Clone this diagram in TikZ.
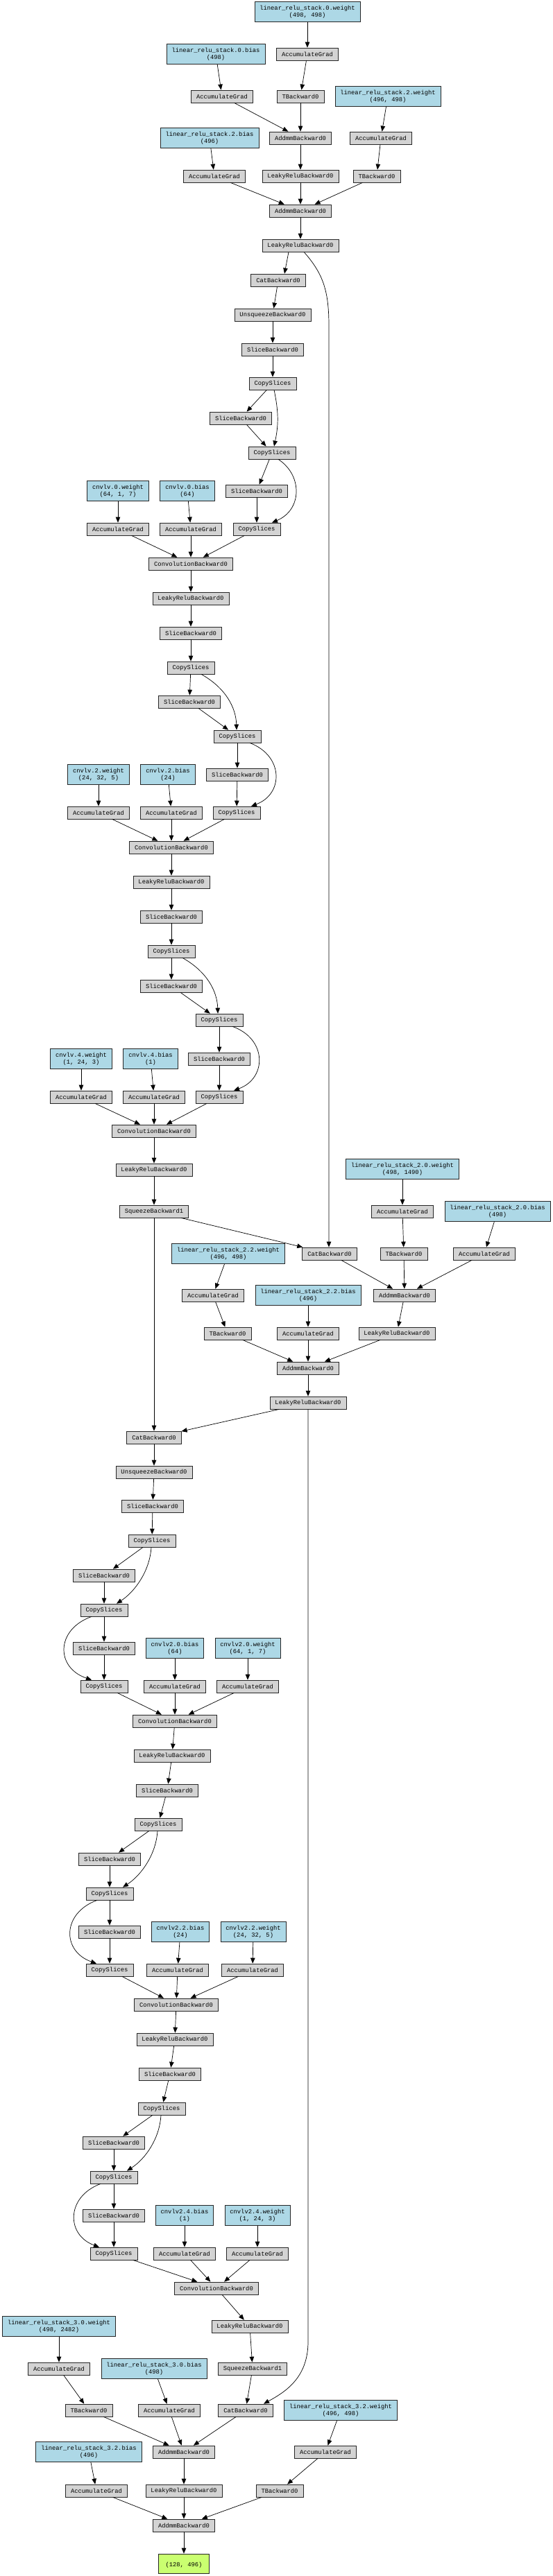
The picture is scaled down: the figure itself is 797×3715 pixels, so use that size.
\documentclass[tikz,border=0pt]{standalone}
\usepackage{fontspec}
\usetikzlibrary{arrows.meta}
\newfontfamily\tfont{Liberation Mono}
\definecolor{gfill}{HTML}{D3D3D3}
\definecolor{bfill}{HTML}{ADD8E6}
\definecolor{ofill}{HTML}{CAFF70}
\begin{document}
\begin{tikzpicture}[x=1pt,y=-1pt,
 base/.style={draw=black!85, line width=0.7pt, inner xsep=7.5pt, inner ysep=0pt, font=\tfont\fontsize{8.8}{10}\selectfont, align=center},
 g/.style={base, fill=gfill, minimum height=18pt},
 b/.style={base, fill=bfill, minimum height=29pt},
 o/.style={base, fill=ofill, minimum height=28pt, minimum width=73pt},
 e/.style={-{Triangle[length=8pt,width=6.5pt]}, line width=0.7pt}]
\useasboundingbox[fill=white] (0,0) rectangle (797,3715);
% ---------- A
\node[b] (n1) at (443,17) {linear\_relu\_stack.0.weight\\(498, 498)};
\node[g] (n2) at (443,78) {AccumulateGrad};
\node[b] (n3) at (311,78) {linear\_relu\_stack.0.bias\\(498)};
\node[g] (n4) at (320,139) {AccumulateGrad};
\node[g] (n5) at (433,139) {TBackward0};
\node[b] (n6) at (559,139) {linear\_relu\_stack.2.weight\\(496, 498)};
\node[g] (n7) at (433,199) {AddmmBackward0};
\node[b] (n8) at (302,199) {linear\_relu\_stack.2.bias\\(496)};
\node[g] (n9) at (549,199) {AccumulateGrad};
\node[g] (n10) at (309,254) {AccumulateGrad};
\node[g] (n11) at (433,254) {LeakyReluBackward0};
\node[g] (n12) at (543,254) {TBackward0};
\node[g] (n13) at (433,304) {AddmmBackward0};
\node[g] (n14) at (433,354) {LeakyReluBackward0};
% ---------- B
\node[g] (n15) at (401,404) {CatBackward0};
\node[g] (n16) at (393,454) {UnsqueezeBackward0};
\node[g] (n17) at (393,504) {SliceBackward0};
\node[g] (n18) at (393,553) {CopySlices};
\node[g] (n19) at (347,603) {SliceBackward0};
\node[g] (n20) at (392,653) {CopySlices};
\node[g] (n21) at (370,708) {SliceBackward0};
\node[b] (n22) at (170,708) {cnvlv.0.weight\\(64, 1, 7)};
\node[b] (n23) at (270,708) {cnvlv.0.bias\\(64)};
\node[g] (n24) at (170,763) {AccumulateGrad};
\node[g] (n25) at (275,763) {AccumulateGrad};
\node[g] (n26) at (370,763) {CopySlices};
\node[g] (n27) at (275,813) {ConvolutionBackward0};
% ---------- C
\node[g] (n28) at (275,863) {LeakyReluBackward0};
\node[g] (n29) at (275,913) {SliceBackward0};
\node[g] (n30) at (275,963) {CopySlices};
\node[g] (n31) at (273,1012) {SliceBackward0};
\node[g] (n32) at (342,1062) {CopySlices};
\node[g] (n33) at (342,1117) {SliceBackward0};
\node[b] (n34) at (142,1117) {cnvlv.2.weight\\(24, 32, 5)};
\node[b] (n35) at (242,1117) {cnvlv.2.bias\\(24)};
\node[g] (n36) at (142,1172) {AccumulateGrad};
\node[g] (n37) at (247,1172) {AccumulateGrad};
\node[g] (n38) at (341,1172) {CopySlices};
\node[g] (n39) at (247,1222) {ConvolutionBackward0};
\node[g] (n40) at (247,1272) {LeakyReluBackward0};
% ---------- D
\node[g] (n41) at (247,1322) {SliceBackward0};
\node[g] (n42) at (247,1372) {CopySlices};
\node[g] (n43) at (247,1422) {SliceBackward0};
\node[g] (n44) at (316,1471) {CopySlices};
\node[g] (n45) at (316,1527) {SliceBackward0};
\node[b] (n46) at (117,1527) {cnvlv.4.weight\\(1, 24, 3)};
\node[b] (n47) at (217,1527) {cnvlv.4.bias\\(1)};
\node[g] (n48) at (117,1582) {AccumulateGrad};
\node[g] (n49) at (222,1582) {AccumulateGrad};
\node[g] (n50) at (316,1582) {CopySlices};
\node[g] (n51) at (222,1631) {ConvolutionBackward0};
\node[g] (n52) at (222,1687) {LeakyReluBackward0};
\node[g] (n53) at (222,1747) {SqueezeBackward1};
% ---------- E
\node[b] (n54) at (580,1686) {linear\_relu\_stack\_2.0.weight\\(498, 1490)};
\node[g] (n55) at (580,1747) {AccumulateGrad};
\node[b] (n56) at (717,1747) {linear\_relu\_stack\_2.0.bias\\(498)};
\node[g] (n57) at (475,1808) {CatBackward0};
\node[g] (n58) at (582,1808) {TBackward0};
\node[g] (n59) at (698,1808) {AccumulateGrad};
\node[b] (n60) at (329,1808) {linear\_relu\_stack\_2.2.weight\\(496, 498)};
\node[g] (n61) at (307,1868) {AccumulateGrad};
\node[b] (n62) at (444,1868) {linear\_relu\_stack\_2.2.bias\\(496)};
\node[g] (n63) at (583,1868) {AddmmBackward0};
\node[g] (n64) at (328,1923) {TBackward0};
\node[g] (n65) at (444,1923) {AccumulateGrad};
\node[g] (n66) at (572,1923) {LeakyReluBackward0};
\node[g] (n67) at (444,1973) {AddmmBackward0};
\node[g] (n68) at (444,2023) {LeakyReluBackward0};
\node[g] (n69) at (222,2073) {CatBackward0};
% ---------- F
\node[g] (n70) at (222,2123) {UnsqueezeBackward0};
\node[g] (n71) at (220,2172) {SliceBackward0};
\node[g] (n72) at (219,2222) {CopySlices};
\node[g] (n73) at (150,2272) {SliceBackward0};
\node[g] (n74) at (150,2322) {CopySlices};
\node[g] (n75) at (150,2377) {SliceBackward0};
\node[b] (n76) at (252,2377) {cnvlv2.0.bias\\(64)};
\node[b] (n77) at (357,2377) {cnvlv2.0.weight\\(64, 1, 7)};
\node[g] (n78) at (150,2432) {CopySlices};
\node[g] (n79) at (252,2432) {AccumulateGrad};
\node[g] (n80) at (357,2432) {AccumulateGrad};
\node[g] (n81) at (252,2482) {ConvolutionBackward0};
\node[g] (n82) at (248,2532) {LeakyReluBackward0};
\node[g] (n83) at (241,2582) {SliceBackward0};
% ---------- G
\node[g] (n84) at (228,2631) {CopySlices};
\node[g] (n85) at (158,2681) {SliceBackward0};
\node[g] (n86) at (158,2731) {CopySlices};
\node[g] (n87) at (158,2786) {SliceBackward0};
\node[b] (n88) at (260,2786) {cnvlv2.2.bias\\(24)};
\node[b] (n89) at (365,2786) {cnvlv2.2.weight\\(24, 32, 5)};
\node[g] (n90) at (158,2841) {CopySlices};
\node[g] (n91) at (256,2841) {AccumulateGrad};
\node[g] (n92) at (364,2841) {AccumulateGrad};
\node[g] (n93) at (254,2891) {ConvolutionBackward0};
\node[g] (n94) at (252,2941) {LeakyReluBackward0};
\node[g] (n95) at (245,2991) {SliceBackward0};
\node[g] (n96) at (233,3041) {CopySlices};
% ---------- H
\node[g] (n97) at (164,3090) {SliceBackward0};
\node[g] (n98) at (164,3140) {CopySlices};
\node[g] (n99) at (164,3195) {SliceBackward0};
\node[b] (n100) at (266,3195) {cnvlv2.4.bias\\(1)};
\node[b] (n101) at (371,3195) {cnvlv2.4.weight\\(1, 24, 3)};
\node[g] (n102) at (164,3250) {CopySlices};
\node[g] (n103) at (266,3250) {AccumulateGrad};
\node[g] (n104) at (371,3250) {AccumulateGrad};
\node[g] (n105) at (312,3300) {ConvolutionBackward0};
\node[g] (n106) at (360,3355) {LeakyReluBackward0};
\node[g] (n107) at (364,3416) {SqueezeBackward1};
\node[g] (n108) at (354,3476) {CatBackward0};
% ---------- I
\node[b] (n109) at (85,3355) {linear\_relu\_stack\_3.0.weight\\(498, 2482)};
\node[g] (n110) at (85,3416) {AccumulateGrad};
\node[b] (n111) at (222,3416) {linear\_relu\_stack\_3.0.bias\\(498)};
\node[g] (n112) at (128,3476) {TBackward0};
\node[g] (n113) at (244,3476) {AccumulateGrad};
\node[b] (n114) at (491,3476) {linear\_relu\_stack\_3.2.weight\\(496, 498)};
\node[g] (n115) at (265,3536) {AddmmBackward0};
\node[b] (n116) at (128,3536) {linear\_relu\_stack\_3.2.bias\\(496)};
\node[g] (n117) at (469,3536) {AccumulateGrad};
\node[g] (n118) at (139,3592) {AccumulateGrad};
\node[g] (n119) at (265,3592) {LeakyReluBackward0};
\node[g] (n120) at (403,3592) {TBackward0};
\node[g] (n121) at (265,3642) {AddmmBackward0};
\node[o] (n122) at (265,3697) {\mbox{}\\(128, 496)};
% ---------- edges A
\draw[e] (n1) -- (n2);
\draw[e] (n2) -- (n5);
\draw[e] (n3) -- (n4);
\draw[e] (n4) -- (n7);
\draw[e] (n5) -- (n7);
\draw[e] (n6) -- (n9);
\draw[e] (n7) -- (n11);
\draw[e] (n8) -- (n10);
\draw[e] (n9) -- (n12);
\draw[e] (n10) -- (n13);
\draw[e] (n11) -- (n13);
\draw[e] (n12) -- (n13);
\draw[e] (n13) -- (n14);
% ---------- edges B
\draw[e] ([xshift=-17pt]n14.south) -- ([xshift=9pt]n15.north);
\draw[e] (n15) -- (n16);
\draw[e] (n16) -- (n17);
\draw[e] (n17) -- (n18);
\draw[e] (n18) -- (n19);
\draw[e] ([xshift=2pt]n18.south) to[bend left=12] ([xshift=3pt]n20.north);
\draw[e] (n19) -- (n20);
\draw[e] (n20) -- (n21);
\draw[e] ([xshift=9pt]n20.south) .. controls (436,685) and (436,735) .. ([xshift=22pt]n26.north);
\draw[e] (n21) -- (n26);
\draw[e] (n22) -- (n24);
\draw[e] (n23) -- (n25);
\draw[e] (n24) -- (n27);
\draw[e] (n25) -- (n27);
\draw[e] (n26) -- (n27);
% ---------- edges C
\draw[e] (n27) -- (n28);
\draw[e] (n28) -- (n29);
\draw[e] (n29) -- (n30);
\draw[e] (n30) -- (n31);
\draw[e] ([xshift=15pt]n30.south) .. controls (325,992) and (340,1020) .. ([xshift=-1pt]n32.north);
\draw[e] (n31) -- (n32);
\draw[e] (n32) -- (n33);
\draw[e] ([xshift=18pt]n32.south) .. controls (409,1090) and (409,1145) .. ([xshift=21pt]n38.north);
\draw[e] (n33) -- (n38);
\draw[e] (n34) -- (n36);
\draw[e] (n35) -- (n37);
\draw[e] (n36) -- (n39);
\draw[e] (n37) -- (n39);
\draw[e] (n38) -- (n39);
\draw[e] (n39) -- (n40);
% ---------- edges D
\draw[e] (n40) -- (n41);
\draw[e] (n41) -- (n42);
\draw[e] (n42) -- (n43);
\draw[e] ([xshift=16pt]n42.south) .. controls (298,1401) and (313,1429) .. ([xshift=-2pt]n44.north);
\draw[e] (n43) -- (n44);
\draw[e] (n44) -- (n45);
\draw[e] ([xshift=19pt]n44.south) .. controls (385,1498) and (385,1555) .. ([xshift=21pt]n50.north);
\draw[e] (n45) -- (n50);
\draw[e] (n46) -- (n48);
\draw[e] (n47) -- (n49);
\draw[e] (n48) -- (n51);
\draw[e] (n49) -- (n51);
\draw[e] (n50) -- (n51);
\draw[e] (n51) -- (n52);
\draw[e] (n52) -- (n53);
% ---------- edges E
\coordinate (k1) at (474,470);
\draw[e] ([xshift=5pt]n14.south) .. controls (466,395) and (474,420) .. (k1) -- (k1 |- n57.north);
\draw[e] (n54) -- (n55);
\draw[e] (n55) -- (n58);
\draw[e] (n56) -- (n59);
\draw[e] (n53) -- (n57);
\draw[e] (n57) -- (n63);
\draw[e] (n58) -- (n63);
\draw[e] (n59) -- (n63);
\draw[e] (n60) -- (n61);
\draw[e] (n61) -- (n64);
\draw[e] (n62) -- (n65);
\draw[e] (n63) -- (n66);
\draw[e] (n64) -- (n67);
\draw[e] (n65) -- (n67);
\draw[e] (n66) -- (n67);
\draw[e] (n67) -- (n68);
\draw[e] (n53) -- (n69);
\draw[e] (n68) -- (n69);
% ---------- edges F
\draw[e] (n69) -- (n70);
\draw[e] (n70) -- (n71);
\draw[e] (n71) -- (n72);
\draw[e] (n72) -- (n73);
\draw[e] ([xshift=-1pt]n72.south) .. controls (216,2265) and (195,2295) .. ([xshift=18pt]n74.north);
\draw[e] (n73) -- (n74);
\draw[e] (n74) -- (n75);
\draw[e] ([xshift=-18pt]n74.south) .. controls (80,2350) and (80,2405) .. ([xshift=-18pt]n78.north);
\draw[e] (n75) -- (n78);
\draw[e] (n76) -- (n79);
\draw[e] (n77) -- (n80);
\draw[e] (n78) -- (n81);
\draw[e] (n79) -- (n81);
\draw[e] (n80) -- (n81);
\draw[e] (n81) -- (n82);
\draw[e] (n82) -- (n83);
% ---------- edges G
\draw[e] (n83) -- (n84);
\draw[e] (n84) -- (n85);
\draw[e] ([xshift=-1pt]n84.south) .. controls (225,2674) and (204,2704) .. ([xshift=19pt]n86.north);
\draw[e] (n85) -- (n86);
\draw[e] (n86) -- (n87);
\draw[e] ([xshift=-18pt]n86.south) .. controls (89,2759) and (89,2814) .. ([xshift=-19pt]n90.north);
\draw[e] (n87) -- (n90);
\draw[e] (n88) -- (n91);
\draw[e] (n89) -- (n92);
\draw[e] (n90) -- (n93);
\draw[e] (n91) -- (n93);
\draw[e] (n92) -- (n93);
\draw[e] (n93) -- (n94);
\draw[e] (n94) -- (n95);
\draw[e] (n95) -- (n96);
% ---------- edges H
\draw[e] (n96) -- (n97);
\draw[e] ([xshift=-1pt]n96.south) .. controls (230,3084) and (210,3113) .. ([xshift=19pt]n98.north);
\draw[e] (n97) -- (n98);
\draw[e] (n98) -- (n99);
\draw[e] ([xshift=-19pt]n98.south) .. controls (95,3168) and (95,3223) .. ([xshift=-21pt]n102.north);
\draw[e] (n99) -- (n102);
\draw[e] (n100) -- (n103);
\draw[e] (n101) -- (n104);
\draw[e] (n102) -- (n105);
\draw[e] (n103) -- (n105);
\draw[e] (n104) -- (n105);
\draw[e] (n105) -- (n106);
\draw[e] (n106) -- (n107);
\draw[e] (n107) -- (n108);
\coordinate (k2) at (444,3377);
\draw[e] (n68.south) -- (k2) .. controls (444,3430) and (410,3450) .. ([xshift=26pt]n108.north);
% ---------- edges I
\draw[e] (n109) -- (n110);
\draw[e] (n110) -- (n112);
\draw[e] (n111) -- (n113);
\draw[e] (n112) -- (n115);
\draw[e] (n113) -- (n115);
\draw[e] (n108) -- (n115);
\draw[e] (n114) -- (n117);
\draw[e] (n117) -- (n120);
\draw[e] (n116) -- (n118);
\draw[e] (n115) -- (n119);
\draw[e] (n118) -- (n121);
\draw[e] (n119) -- (n121);
\draw[e] (n120) -- (n121);
\draw[e] (n121) -- (n122);
\end{tikzpicture}
\end{document}
